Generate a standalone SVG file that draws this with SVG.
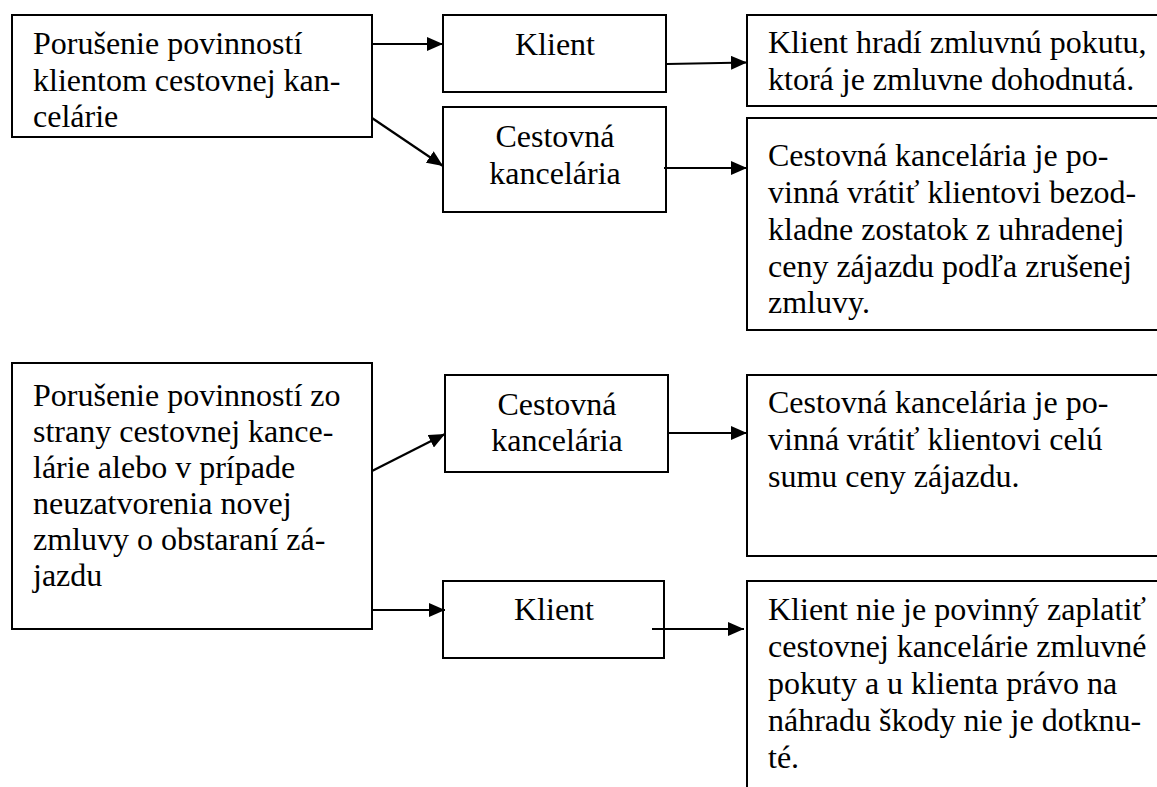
<svg xmlns="http://www.w3.org/2000/svg" width="1157" height="787" viewBox="0 0 1157 787">
<style>
  .box{fill:#fff;stroke:#000;stroke-width:2}
  .t{font-family:'Liberation Serif','DejaVu Serif',serif;font-size:32px;fill:#000}
  .c{text-anchor:middle}
  .ln{stroke:#000;stroke-width:2.2;fill:none}
</style>
<defs>
  <marker id="ah" markerUnits="userSpaceOnUse" markerWidth="16" markerHeight="14" refX="16" refY="7" orient="auto">
    <path d="M0,0 L16,7 L0,14 z" fill="#000"/>
  </marker>
</defs>
<rect width="1157" height="787" fill="#fff"/>

<g id="n1" font-family="Liberation Serif, serif">
  <rect class="box" x="12" y="15" width="360" height="122"/>
  <text class="t" x="33" y="54">Porušenie povinností</text>
  <text class="t" x="33" y="91">klientom cestovnej kan-</text>
  <text class="t" x="33" y="127">celárie</text>
</g>
<g id="n2">
  <rect class="box" x="443" y="15" width="223" height="77"/>
  <text class="t c" x="555" y="55">Klient</text>
</g>
<g id="n3">
  <rect class="box" x="443" y="107" width="223" height="105"/>
  <text class="t c" x="555" y="147">Cestovná</text>
  <text class="t c" x="555" y="184">kancelária</text>
</g>
<g id="n4">
  <rect class="box" x="747" y="15" width="420" height="91"/>
  <text class="t" x="768" y="53">Klient hradí zmluvnú pokutu,</text>
  <text class="t" x="768" y="90">ktorá je zmluvne dohodnutá.</text>
</g>
<g id="n5">
  <rect class="box" x="747" y="118" width="420" height="212"/>
  <text class="t" x="768" y="166">Cestovná kancelária je po-</text>
  <text class="t" x="768" y="203">vinná vrátiť klientovi bezod-</text>
  <text class="t" x="768" y="240">kladne zostatok z uhradenej</text>
  <text class="t" x="768" y="277">ceny zájazdu podľa zrušenej</text>
  <text class="t" x="768" y="313">zmluvy.</text>
</g>
<g id="n6">
  <rect class="box" x="12" y="363" width="360" height="266"/>
  <text class="t" x="33" y="406">Porušenie povinností zo</text>
  <text class="t" x="33" y="442">strany cestovnej kance-</text>
  <text class="t" x="33" y="478">lárie alebo v prípade</text>
  <text class="t" x="33" y="514">neuzatvorenia novej</text>
  <text class="t" x="33" y="550">zmluvy o obstaraní zá-</text>
  <text class="t" x="33" y="586">jazdu</text>
</g>
<g id="n7">
  <rect class="box" x="445" y="375" width="223" height="97"/>
  <text class="t c" x="557" y="415">Cestovná</text>
  <text class="t c" x="557" y="451">kancelária</text>
</g>
<g id="n8">
  <rect class="box" x="747" y="375" width="420" height="181"/>
  <text class="t" x="768" y="413">Cestovná kancelária je po-</text>
  <text class="t" x="768" y="450">vinná vrátiť klientovi celú</text>
  <text class="t" x="768" y="487">sumu ceny zájazdu.</text>
</g>
<g id="n9">
  <rect class="box" x="443" y="581" width="221" height="77"/>
  <text class="t c" x="554" y="620">Klient</text>
</g>
<g id="n10">
  <rect class="box" x="747" y="581" width="420" height="220"/>
  <text class="t" x="768" y="620">Klient nie je povinný zaplatiť</text>
  <text class="t" x="768" y="657">cestovnej kancelárie zmluvné</text>
  <text class="t" x="768" y="694">pokuty a u klienta právo na</text>
  <text class="t" x="768" y="731">náhradu škody nie je dotknu-</text>
  <text class="t" x="768" y="768">té.</text>
</g>

<g id="connectors">
  <line class="ln" x1="372" y1="44" x2="443" y2="44" marker-end="url(#ah)"/>
  <line class="ln" x1="372" y1="118" x2="443" y2="166" marker-end="url(#ah)"/>
  <line class="ln" x1="667" y1="64" x2="747" y2="62.5" marker-end="url(#ah)"/>
  <line class="ln" x1="664" y1="168" x2="747" y2="168" marker-end="url(#ah)"/>
  <line class="ln" x1="372" y1="471" x2="445" y2="434" marker-end="url(#ah)"/>
  <line class="ln" x1="668" y1="433" x2="747" y2="433" marker-end="url(#ah)"/>
  <line class="ln" x1="372" y1="610" x2="445" y2="610" marker-end="url(#ah)"/>
  <line class="ln" x1="652" y1="629" x2="744" y2="629" marker-end="url(#ah)"/>
</g>
</svg>
